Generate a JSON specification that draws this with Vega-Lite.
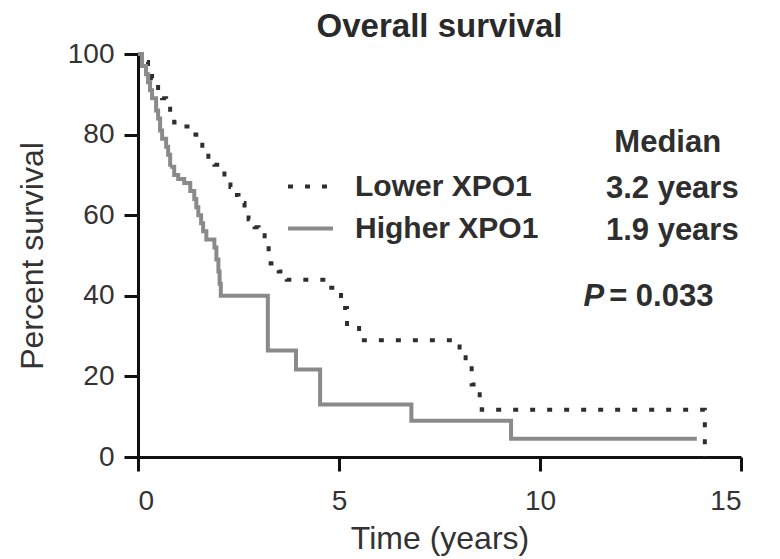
{
  "$schema": "https://vega.github.io/schema/vega-lite/v6.json",
  "width": 603,
  "height": 403,
  "padding": {"left": 16, "top": 11, "right": 5, "bottom": 5},
  "background": "white",
  "title": {
    "text": "Overall survival",
    "fontSize": 33,
    "fontWeight": "bold",
    "color": "#2a2a2a",
    "anchor": "middle",
    "offset": -4
  },
  "datasets": {
    "curves": [
      {"group": "Lower XPO1", "time": 0, "surv": 100},
      {"group": "Lower XPO1", "time": 0.15, "surv": 98},
      {"group": "Lower XPO1", "time": 0.25, "surv": 96},
      {"group": "Lower XPO1", "time": 0.35, "surv": 94},
      {"group": "Lower XPO1", "time": 0.42, "surv": 93},
      {"group": "Lower XPO1", "time": 0.5, "surv": 91},
      {"group": "Lower XPO1", "time": 0.6, "surv": 89},
      {"group": "Lower XPO1", "time": 0.7, "surv": 87},
      {"group": "Lower XPO1", "time": 0.8, "surv": 84},
      {"group": "Lower XPO1", "time": 0.9, "surv": 83},
      {"group": "Lower XPO1", "time": 1.1, "surv": 82},
      {"group": "Lower XPO1", "time": 1.3, "surv": 80},
      {"group": "Lower XPO1", "time": 1.45, "surv": 78},
      {"group": "Lower XPO1", "time": 1.6, "surv": 76},
      {"group": "Lower XPO1", "time": 1.75, "surv": 74},
      {"group": "Lower XPO1", "time": 1.9, "surv": 72.5},
      {"group": "Lower XPO1", "time": 2.05, "surv": 71},
      {"group": "Lower XPO1", "time": 2.15, "surv": 69},
      {"group": "Lower XPO1", "time": 2.3, "surv": 67},
      {"group": "Lower XPO1", "time": 2.4, "surv": 65},
      {"group": "Lower XPO1", "time": 2.5, "surv": 63},
      {"group": "Lower XPO1", "time": 2.65, "surv": 61},
      {"group": "Lower XPO1", "time": 2.75, "surv": 59},
      {"group": "Lower XPO1", "time": 2.9, "surv": 57},
      {"group": "Lower XPO1", "time": 3.0, "surv": 55},
      {"group": "Lower XPO1", "time": 3.15, "surv": 53.5},
      {"group": "Lower XPO1", "time": 3.25, "surv": 50},
      {"group": "Lower XPO1", "time": 3.3, "surv": 48},
      {"group": "Lower XPO1", "time": 3.5, "surv": 46},
      {"group": "Lower XPO1", "time": 3.7, "surv": 44},
      {"group": "Lower XPO1", "time": 4.7, "surv": 42},
      {"group": "Lower XPO1", "time": 5.05, "surv": 37},
      {"group": "Lower XPO1", "time": 5.2, "surv": 33},
      {"group": "Lower XPO1", "time": 5.5, "surv": 29},
      {"group": "Lower XPO1", "time": 8.0, "surv": 26},
      {"group": "Lower XPO1", "time": 8.15, "surv": 23},
      {"group": "Lower XPO1", "time": 8.3, "surv": 18},
      {"group": "Lower XPO1", "time": 8.5, "surv": 13},
      {"group": "Lower XPO1", "time": 8.55, "surv": 11.7},
      {"group": "Lower XPO1", "time": 14.1, "surv": 0},
      {"group": "Higher XPO1", "time": 0, "surv": 100},
      {"group": "Higher XPO1", "time": 0.1, "surv": 97},
      {"group": "Higher XPO1", "time": 0.2, "surv": 95},
      {"group": "Higher XPO1", "time": 0.25, "surv": 93},
      {"group": "Higher XPO1", "time": 0.3, "surv": 91},
      {"group": "Higher XPO1", "time": 0.35, "surv": 89},
      {"group": "Higher XPO1", "time": 0.45, "surv": 86},
      {"group": "Higher XPO1", "time": 0.5, "surv": 84},
      {"group": "Higher XPO1", "time": 0.55, "surv": 81},
      {"group": "Higher XPO1", "time": 0.6, "surv": 79},
      {"group": "Higher XPO1", "time": 0.7, "surv": 77},
      {"group": "Higher XPO1", "time": 0.75, "surv": 75},
      {"group": "Higher XPO1", "time": 0.8, "surv": 72},
      {"group": "Higher XPO1", "time": 0.9, "surv": 70},
      {"group": "Higher XPO1", "time": 1.0, "surv": 69},
      {"group": "Higher XPO1", "time": 1.15, "surv": 68},
      {"group": "Higher XPO1", "time": 1.3, "surv": 66},
      {"group": "Higher XPO1", "time": 1.4, "surv": 64},
      {"group": "Higher XPO1", "time": 1.45, "surv": 62},
      {"group": "Higher XPO1", "time": 1.5, "surv": 60},
      {"group": "Higher XPO1", "time": 1.57, "surv": 58},
      {"group": "Higher XPO1", "time": 1.62, "surv": 56},
      {"group": "Higher XPO1", "time": 1.7, "surv": 54},
      {"group": "Higher XPO1", "time": 1.9, "surv": 52},
      {"group": "Higher XPO1", "time": 1.95, "surv": 49},
      {"group": "Higher XPO1", "time": 2.0, "surv": 46},
      {"group": "Higher XPO1", "time": 2.03, "surv": 43},
      {"group": "Higher XPO1", "time": 2.06, "surv": 40},
      {"group": "Higher XPO1", "time": 3.23, "surv": 26.4},
      {"group": "Higher XPO1", "time": 3.93, "surv": 21.7},
      {"group": "Higher XPO1", "time": 4.53, "surv": 13},
      {"group": "Higher XPO1", "time": 6.8, "surv": 9},
      {"group": "Higher XPO1", "time": 9.28, "surv": 4.5},
      {"group": "Higher XPO1", "time": 13.9, "surv": 4.5}
    ],
    "notes": [
      {"label": "Median", "x": 11.85, "y": 77.9, "style": "normal"},
      {"label": "3.2 years", "x": 11.64, "y": 66.5, "style": "normal"},
      {"label": "1.9 years", "x": 11.64, "y": 56.1, "style": "normal"},
      {"label": "P", "x": 11.08, "y": 39.6, "style": "italic"},
      {"label": "= 0.033", "x": 11.72, "y": 39.6, "style": "normal"}
    ]
  },
  "layer": [
    {
      "data": {"name": "curves"},
      "mark": {"type": "line", "interpolate": "step-after", "strokeWidth": 4, "strokeCap": "butt"},
      "encoding": {
        "x": {
          "field": "time", "type": "quantitative",
          "scale": {"domain": [0, 15], "nice": false, "zero": false},
          "axis": {"title": "Time (years)", "values": [0, 5, 10, 15]}
        },
        "y": {
          "field": "surv", "type": "quantitative",
          "scale": {"domain": [0, 100], "nice": false},
          "axis": {"title": "Percent survival", "values": [0, 20, 40, 60, 80, 100]}
        },
        "color": {
          "field": "group", "type": "nominal",
          "scale": {"domain": ["Lower XPO1", "Higher XPO1"], "range": ["#2e2e2e", "#8a8a8a"]},
          "legend": {"title": null}
        },
        "strokeDash": {
          "field": "group", "type": "nominal",
          "scale": {"domain": ["Lower XPO1", "Higher XPO1"], "range": [[5, 12], [1, 0]]},
          "legend": {"title": null}
        }
      }
    },
    {
      "data": {"name": "notes"},
      "transform": [{"filter": "datum.style === 'normal'"}],
      "mark": {"type": "text", "align": "left", "baseline": "middle", "fontSize": 31, "fontWeight": "bold", "color": "#2e2e2e"},
      "encoding": {
        "x": {"field": "x", "type": "quantitative"},
        "y": {"field": "y", "type": "quantitative"},
        "text": {"field": "label"}
      }
    },
    {
      "data": {"name": "notes"},
      "transform": [{"filter": "datum.style === 'italic'"}],
      "mark": {"type": "text", "align": "left", "baseline": "middle", "fontSize": 31, "fontWeight": "bold", "fontStyle": "italic", "color": "#2e2e2e"},
      "encoding": {
        "x": {"field": "x", "type": "quantitative"},
        "y": {"field": "y", "type": "quantitative"},
        "text": {"field": "label"}
      }
    }
  ],
  "config": {
    "font": "Liberation Sans",
    "view": {"stroke": null},
    "axis": {
      "grid": false,
      "domainColor": "#111111",
      "domainWidth": 3,
      "tickColor": "#111111",
      "tickWidth": 3,
      "tickSize": 14,
      "labelFontSize": 28,
      "labelColor": "#333333",
      "labelFont": "Liberation Sans",
      "titleFont": "Liberation Sans",
      "titleFontSize": 32,
      "titleFontWeight": "normal",
      "titleColor": "#333333"
    },
    "axisX": {"labelPadding": 16, "titlePadding": 8},
    "axisY": {"labelPadding": 10, "titlePadding": 18},
    "legend": {
      "orient": "none",
      "legendX": 148,
      "legendY": 108,
      "padding": 0,
      "labelFontSize": 30,
      "labelFontWeight": "bold",
      "labelColor": "#2e2e2e",
      "labelFont": "Liberation Sans",
      "labelLimit": 400,
      "symbolType": "stroke",
      "symbolSize": 2025,
      "symbolStrokeWidth": 4,
      "rowPadding": 2,
      "labelOffset": 20
    }
  }
}
